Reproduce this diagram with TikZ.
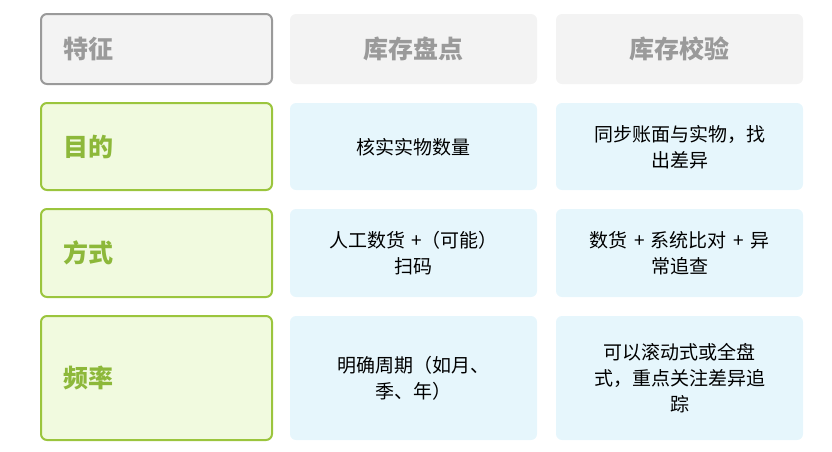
\documentclass[tikz,border=0pt]{standalone}
\usepackage{fontspec}
\setmainfont{Noto Sans CJK SC}
\definecolor{hdrfill}{HTML}{F3F3F3}
\definecolor{hdrtxt}{HTML}{9A9A9A}
\definecolor{grnfill}{HTML}{F1FADF}
\definecolor{grn}{HTML}{9BC53D}
\definecolor{grntxt}{HTML}{8DB83A}
\definecolor{bluefill}{HTML}{E6F6FC}
\begin{document}
\begin{tikzpicture}[x=1pt,y=-1pt,
  hdr/.style={fill=hdrfill,rounded corners=6pt},
  hdrb/.style={fill=hdrfill,draw=hdrtxt,line width=2pt,rounded corners=6pt},
  lab/.style={fill=grnfill,draw=grn,line width=2pt,rounded corners=6pt},
  cell/.style={fill=bluefill,rounded corners=6pt},
  ht/.style={font=\bfseries\fontsize{25}{30}\selectfont,text=hdrtxt},
  lt/.style={font=\bfseries\fontsize{25}{30}\selectfont,text=grntxt},
  ct/.style={font=\fontsize{19}{26}\selectfont,align=center,text width=220pt}]
\useasboundingbox (0,0) rectangle (832,451);
\draw[hdrb] (41,14) rectangle (272,84);
\node[ht,anchor=west] (h1) at (60,49) {特征};
\fill[hdr] (290,14) rectangle (537,84);
\node[ht] (h2) at (413.5,49) {库存盘点};
\fill[hdr] (556,14) rectangle (803,84);
\node[ht] (h3) at (679.5,49) {库存校验};
\draw[lab] (41,103) rectangle (272,190);
\node[lt,anchor=west] (l1) at (60,147) {目的};
\draw[lab] (41,209) rectangle (272,297);
\node[lt,anchor=west] (l2) at (60,253) {方式};
\draw[lab] (41,316) rectangle (272,440);
\node[lt,anchor=west] (l3) at (60,378) {频率};
\fill[cell] (290,103) rectangle (537,190);
\node[ct] (a1) at (413.5,147) {核实实物数量};
\fill[cell] (556,103) rectangle (803,190);
\node[ct] (b1) at (679.5,147) {同步账面与实物，找\\出差异};
\fill[cell] (290,209) rectangle (537,297);
\node[ct] (a2) at (413.5,253) {人工数货 +（可能）\\扫码};
\fill[cell] (556,209) rectangle (803,297);
\node[ct] (b2) at (679.5,253) {数货 + 系统比对 + 异\\常追查};
\fill[cell] (290,316) rectangle (537,440);
\node[ct] (a3) at (413.5,378) {明确周期（如月、\\季、年）};
\fill[cell] (556,316) rectangle (803,440);
\node[ct] (b3) at (679.5,378) {可以滚动式或全盘\\式，重点关注差异追\\踪};
\end{tikzpicture}
\end{document}
